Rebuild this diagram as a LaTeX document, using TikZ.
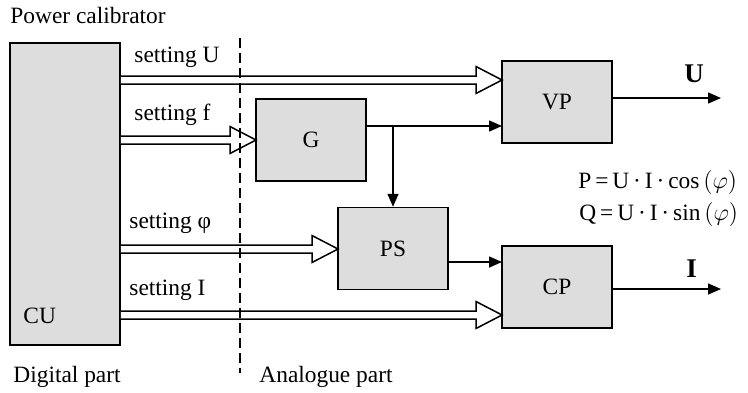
\documentclass[tikz,border=0pt]{standalone}
\usepackage{fontspec}
\setmainfont{Liberation Serif}
\usetikzlibrary{arrows.meta,calc}
\definecolor{boxgray}{RGB}{221,221,221}
\newcommand\dblarr[2]{%
  \draw[dbl] ($(#1 |- #2)+(0,-4)$) -- ($(#2)+(-26,-4)$) -- ($(#2)+(-26,-13.5)$) -- (#2)
    -- ($(#2)+(-26,13.5)$) -- ($(#2)+(-26,4)$) -- ($(#1 |- #2)+(0,4)$);}
\begin{document}
\begin{tikzpicture}[x=0.5pt,y=-0.5pt,
  every node/.style={font=\fontsize{11.7}{14}\selectfont, inner sep=0pt},
  blk/.style={draw, line width=0.75pt, fill=boxgray, minimum width=55pt, minimum height=41pt},
  arr/.style={line width=0.75pt, -{Triangle[length=6.5pt,width=5.5pt]}},
  dbl/.style={line width=0.75pt, fill=white, line join=miter},
  dsh/.style={line width=0.75pt, dash pattern=on 5pt off 2.5pt},
  txt/.style={anchor=base west},
  big/.style={anchor=base west, font=\fontsize{13.5}{16}\selectfont\bfseries}]
\useasboundingbox (0,0) rectangle (748,392);
% blocks
\node[blk, minimum width=55pt, minimum height=151pt] (CU) at (65,194) {};
\node[blk] (G) at (311,140) {G};
\node[blk] (VP) at (557,102) {VP};
\node[blk] (PS) at (393,248.5) {PS};
\node[blk] (CP) at (557,287) {CP};
% tips of double arrows
\coordinate (tU) at (502,80);
\coordinate (tF) at (256,140);
\coordinate (tP) at (338,249);
\coordinate (tI) at (502,315);
\dblarr{CU.east}{tU}
\dblarr{CU.east}{tF}
\dblarr{CU.east}{tP}
\dblarr{CU.east}{tI}
% dashed separator
\coordinate (dtop) at (240,38);
\coordinate (dbot) at (240,373);
\draw[dsh] (dtop) -- (dbot);
% signal arrows
\coordinate (vpIn) at (502,126);
\coordinate (cpIn) at (502,262);
\coordinate (outU) at (721,98);
\coordinate (outI) at (721,289);
\draw[arr] (G.east |- vpIn) -- (vpIn);
\draw[arr] (PS.north |- vpIn) -- (PS.north);
\draw[arr] (PS.east |- cpIn) -- (cpIn);
\draw[arr] (VP.east |- outU) -- (outU);
\draw[arr] (CP.east |- outI) -- (outI);
% texts
\node[txt] (tPC) at (10,23) {Power calibrator};
\node[txt] (lU) at (134,62) {setting U};
\node[txt] (lF) at (134,120) {setting f};
\node[txt] (lP) at (129,228) {setting φ};
\node[txt] (lI) at (129,295) {setting I};
\node[txt] (lCU) at (23,323) {CU};
\node[txt] (lDig) at (13,382) {Digital part};
\node[txt] (lAna) at (259,382) {Analogue part};
\node[big] (oU) at (684,82) {U};
\node[big] (oI) at (686,277) {I};
\node[txt] (fP) at (578,188) {P\,=\,U\,·\,I\,·\,cos\,\(\bigl(\varphi\bigr)\)};
\node[txt] (fQ) at (579,220) {Q\,=\,U\,·\,I\,·\,sin\,\(\bigl(\varphi\bigr)\)};
\end{tikzpicture}
\end{document}
